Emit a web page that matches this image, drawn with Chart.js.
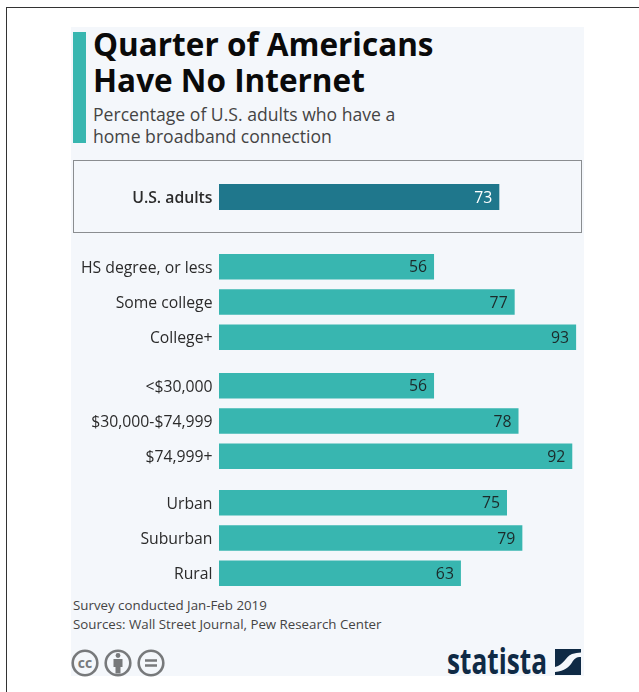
<!DOCTYPE html>
<html>
<head>
<meta charset="utf-8">
<title>Quarter of Americans Have No Internet</title>
<script src="https://cdn.jsdelivr.net/npm/chart.js@4"></script>
<style>
  html, body { margin: 0; padding: 0; background: #fff; }
  body { position: relative; width: 639px; height: 692px; overflow: hidden; font-family: "Open Sans", sans-serif; }
  .abs { position: absolute; }
  #frame { left: 6px; top: 7px; width: 640px; height: 700px; border: 1px solid #333; }
  #panel { left: 71px; top: 27px; width: 513px; height: 649px; background: #f4f7fb; }
  #accent { left: 73px; top: 32px; width: 13px; height: 111px; background: #38b6b0; }
  #title { left: 93px; top: 26px; font-size: 31.5px; line-height: 36px; font-weight: 700; color: #0a0a0a; white-space: nowrap; }
  #subtitle { left: 93px; top: 103px; font-size: 17.6px; line-height: 22px; color: #444; white-space: nowrap; }
  #card { left: 73px; top: 160px; width: 507px; height: 71px; border: 1px solid #8a8d90; }
  canvas { position: absolute; left: 72px; }
  #notes { left: 73px; top: 596px; font-size: 13.3px; line-height: 19px; color: #444; white-space: nowrap; }
</style>
</head>
<body>
<div class="abs" id="frame"></div>
<div class="abs" id="panel"></div>
<div class="abs" id="accent"></div>
<div class="abs" id="title">Quarter of Americans<br>Have No Internet</div>
<div class="abs" id="subtitle">Percentage of U.S. adults who have a<br>home broadband connection</div>
<div class="abs" id="card"></div>

<canvas id="overall" width="531" height="36" style="top:179px"></canvas>
<canvas id="education" width="531" height="106" style="top:249px"></canvas>
<canvas id="income" width="531" height="106" style="top:368px"></canvas>
<canvas id="area" width="531" height="106" style="top:485px"></canvas>

<div class="abs" id="notes">Survey conducted Jan-Feb 2019<br>Sources: Wall Street Journal, Pew Research Center</div>

<!-- licence icons -->
<svg class="abs" style="left:71px;top:648px" width="96" height="30" fill="none" stroke="#77797b" stroke-width="2.6">
  <circle cx="14" cy="15" r="12.300"/>
  <circle cx="47" cy="15" r="12.300"/>
  <circle cx="80" cy="15" r="12.300"/>
  <text x="14" y="19.500" text-anchor="middle" font-family="Open Sans" font-weight="700" font-size="14" fill="#77797b" stroke="none">cc</text>
  <circle cx="47" cy="7.500" r="2.400" fill="#77797b" stroke="none"/>
  <path d="M42.500 11h9v8h-2v6.500h-5v-6.500h-2z" fill="#77797b" stroke="none"/>
  <path d="M74 12.500h12M74 17.500h12"/>
</svg>

<!-- logo -->
<svg class="abs" style="left:446px;top:640px" width="136" height="40">
  <text x="1" y="34" textLength="100" lengthAdjust="spacingAndGlyphs" font-family="Open Sans" font-weight="700" font-size="35" fill="#0f2a45">statista</text>
  <rect x="109" y="9" width="26" height="26" fill="#0f2a45"/>
  <path d="M109 27C118 25 119 17 126 14C129 13 132 12.500 135 12.500V17C130 17 128 19 126 22.500C123 27 119 31 109 32Z" fill="#f4f7fb"/>
</svg>

<script>
// Share of adults with home broadband, in percent
const overallLabels = ["U.S. adults"];
const overallValues = [73];

const educationLabels = ["HS degree, or less", "Some college", "College+"];
const educationValues = [56, 77, 93];

const incomeLabels = ["<$30,000", "$30,000-$74,999", "$74,999+"];
const incomeValues = [56, 78, 92];

const areaLabels = ["Urban", "Suburban", "Rural"];
const areaValues = [75, 79, 63];

const TEAL = "#38b6b0";
const DARK_TEAL = "#1f778c";

// nudges the axis labels down a little, then writes each value
// just inside the end of its bar
const valueLabels = {
  id: "valueLabels",
  beforeDraw(chart) {
    chart.ctx.save();
    chart.ctx.translate(-0.5, 1.5);
  },
  beforeDatasetsDraw(chart) {
    chart.ctx.restore();
  },
  afterDatasetsDraw(chart, args, opts) {
    const ctx = chart.ctx;
    const bars = chart.getDatasetMeta(0).data;
    ctx.save();
    ctx.font = '15.8px "Open Sans"';
    ctx.fillStyle = opts.color;
    ctx.textAlign = "right";
    ctx.textBaseline = "middle";
    bars.forEach(function (bar, i) {
      ctx.fillText(chart.data.datasets[0].data[i], bar.x - 7, bar.y + 1);
    });
    ctx.restore();
  },
};

function createBarChart(id, labels, values, barColor, labelColor, tickFont) {
  return new Chart(document.getElementById(id), {
    type: "bar",
    data: {
      labels: labels,
      datasets: [{
        data: values,
        backgroundColor: barColor,
        categoryPercentage: 1,
        barPercentage: 0.72,
      }],
    },
    plugins: [valueLabels],
    options: {
      indexAxis: "y",
      responsive: false,
      animation: false,
      layout: { padding: 0 },
      plugins: {
        legend: { display: false },
        tooltip: { enabled: false },
        valueLabels: { color: labelColor },
      },
      scales: {
        x: { display: false, min: 0, max: 100 },
        y: {
          // fixed gutter so the bars of every group start at the same x,
          // and no room kept above and below for the tick labels
          afterFit(scale) {
            scale.width = 147;
            scale.paddingTop = 0;
            scale.paddingBottom = 0;
          },
          grid: { display: false, drawTicks: false },
          border: { display: false },
          ticks: { color: "#2b2b2b", padding: 6, font: tickFont },
        },
      },
    },
  });
}

const plainFont = { family: "Open Sans", size: 15.75 };
const boldFont = { family: "Open Sans", size: 15.75, weight: "600" };

createBarChart("overall", overallLabels, overallValues, DARK_TEAL, "#ffffff", boldFont);
createBarChart("education", educationLabels, educationValues, TEAL, "#1c2a2a", plainFont);
createBarChart("income", incomeLabels, incomeValues, TEAL, "#1c2a2a", plainFont);
createBarChart("area", areaLabels, areaValues, TEAL, "#1c2a2a", plainFont);
</script>
</body>
</html>
